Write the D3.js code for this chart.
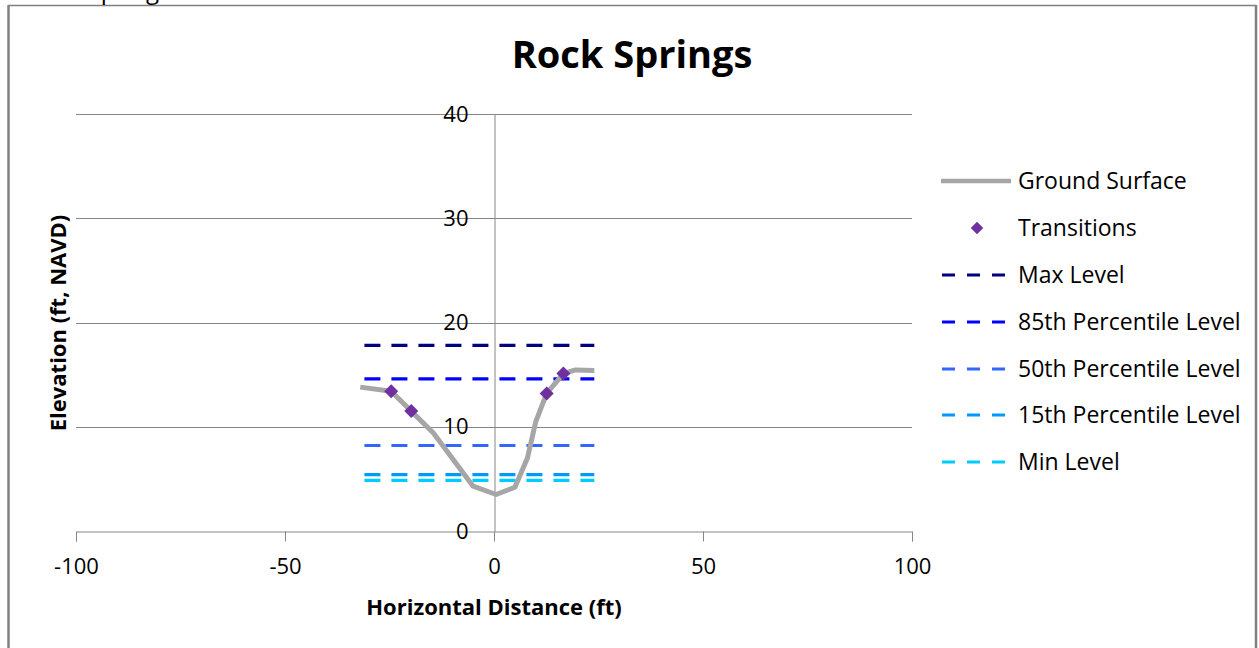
<!DOCTYPE html>
<html>
<head>
<meta charset="utf-8">
<script src="https://cdn.jsdelivr.net/npm/d3@7"></script>
<style>
  body { margin: 0; background: #fff; }
  svg { display: block; font-family: "Open Sans", Lato, sans-serif; }
</style>
</head>
<body>
<svg id="chart" width="1259" height="648"></svg>
<script>
// ground profile (horizontal distance ft, elevation ft NAVD)
var groundX = [-32, -24.6, -19.8, -14.5, -5, 0.5, 5, 8, 10, 12.6, 16.6, 19.5, 24];
var groundY = [13.8, 13.4, 11.5, 9.4, 4.3, 3.5, 4.2, 7, 10.5, 13.2, 15.1, 15.45, 15.4];

// transition points
var transX = [-24.6, -19.8, 12.6, 16.6];
var transY = [13.4, 11.5, 13.2, 15.1];

// water levels
var levelNames = ["Max Level", "85th Percentile Level", "50th Percentile Level", "15th Percentile Level", "Min Level"];
var levelValues = [17.8, 14.6, 8.2, 5.4, 4.85];
var levelColors = ["#000080", "#0000ff", "#3366ff", "#0099ff", "#00ccff"];
var levelExtent = [-31, 24];

var xTicks = [-100, -50, 0, 50, 100];
var yTicks = [0, 10, 20, 30, 40];

var svg = d3.select("#chart");
var gridColor = "#868686";

var x = d3.scaleLinear().domain([-100, 100]).range([76, 912]);
var y = d3.scaleLinear().domain([0, 40]).range([531, 114]);

// outer frame
svg.append("line").attr("x1", 8).attr("x2", 1256).attr("y1", 5.5).attr("y2", 5.5)
    .attr("stroke", "#808080").attr("stroke-width", 1.5);
svg.append("line").attr("x1", 8.5).attr("x2", 8.5).attr("y1", 5).attr("y2", 660)
    .attr("stroke", "#808080").attr("stroke-width", 2.5);
svg.append("line").attr("x1", 1256).attr("x2", 1256).attr("y1", 5).attr("y2", 660)
    .attr("stroke", "#808080").attr("stroke-width", 2.5);

// heading above the frame, only its descenders fall inside the picture
svg.append("text")
    .attr("x", 28).attr("y", -1.5)
    .attr("font-size", 24)
    .text("Rock Springs");

// title
svg.append("text")
    .attr("x", 632).attr("y", 68)
    .attr("text-anchor", "middle")
    .attr("font-size", 38)
    .attr("font-weight", "bold")
    .text("Rock Springs");

// horizontal gridlines
svg.append("g")
  .selectAll("line")
  .data(yTicks.filter(function(d) { return d > 0; }))
  .enter().append("line")
    .attr("x1", x(-100)).attr("x2", x(100))
    .attr("y1", function(d) { return Math.round(y(d)) + 0.5; })
    .attr("y2", function(d) { return Math.round(y(d)) + 0.5; })
    .attr("stroke", gridColor)
    .attr("stroke-width", 1);

// x axis at y = 0
var xAxis = svg.append("g")
    .attr("transform", "translate(0," + (Math.round(y(0)) + 0.5) + ")")
    .call(d3.axisBottom(x).tickValues(xTicks).tickSize(10).tickPadding(17)
      .tickFormat(function(d) { return String(d); }));
xAxis.select(".domain").attr("stroke", gridColor);
xAxis.selectAll(".tick line").attr("stroke", gridColor);
xAxis.selectAll(".tick text")
    .attr("fill", "#000")
    .attr("font-size", 22)
    .attr("font-family", "'Open Sans', sans-serif");

// y axis at x = 0
var yAxis = svg.append("g")
    .attr("transform", "translate(" + (Math.round(x(0)) + 0.5) + ",0)")
    .call(d3.axisLeft(y).tickValues(yTicks).tickSize(0).tickPadding(26));
yAxis.select(".domain").attr("stroke", gridColor);
yAxis.selectAll(".tick text")
    .attr("fill", "#000")
    .attr("font-size", 22)
    .attr("font-family", "'Open Sans', sans-serif");

// axis titles
svg.append("text")
    .attr("x", x(0)).attr("y", 615)
    .attr("text-anchor", "middle")
    .attr("font-size", 22)
    .attr("font-weight", "bold")
    .text("Horizontal Distance (ft)");
svg.append("text")
    .attr("transform", "translate(66,323) rotate(-90)")
    .attr("text-anchor", "middle")
    .attr("font-size", 22)
    .attr("font-weight", "bold")
    .text("Elevation (ft, NAVD)");

// level lines
svg.append("g")
  .selectAll("line")
  .data(levelValues)
  .enter().append("line")
    .attr("x1", x(levelExtent[0])).attr("x2", x(levelExtent[1]))
    .attr("y1", function(d) { return y(d); })
    .attr("y2", function(d) { return y(d); })
    .attr("stroke", function(d, i) { return levelColors[i]; })
    .attr("stroke-width", 3.2)
    .attr("stroke-dasharray", "16,11");

// ground surface
var line = d3.line()
    .x(function(d, i) { return x(groundX[i]); })
    .y(function(d, i) { return y(groundY[i]); });
svg.append("path")
    .datum(groundX)
    .attr("d", line)
    .attr("fill", "none")
    .attr("stroke", "#a6a6a6")
    .attr("stroke-width", 5)
    .attr("stroke-linejoin", "round");

// transition markers
var diamond = d3.symbol().type(d3.symbolDiamond2).size(125);
svg.append("g")
  .selectAll("path")
  .data(transX)
  .enter().append("path")
    .attr("transform", function(d, i) { return "translate(" + x(d) + "," + y(transY[i]) + ")"; })
    .attr("d", diamond)
    .attr("fill", "#7030a0");

// legend
var legend = svg.append("g").attr("class", "legend");
var legendY = [181, 228, 275, 322, 369, 415, 462];
var legendItems = ["Ground Surface", "Transitions"].concat(levelNames);

legendItems.forEach(function(name, i) {
  var ly = legendY[i];
  if (i === 0) {
    legend.append("line")
      .attr("x1", 941).attr("x2", 1011).attr("y1", ly).attr("y2", ly)
      .attr("stroke", "#a6a6a6").attr("stroke-width", 4.5);
  } else if (i === 1) {
    legend.append("path")
      .attr("transform", "translate(977," + ly + ")")
      .attr("d", d3.symbol().type(d3.symbolDiamond2).size(100))
      .attr("fill", "#7030a0");
  } else {
    legend.append("line")
      .attr("x1", 942).attr("x2", 1010).attr("y1", ly).attr("y2", ly)
      .attr("stroke", levelColors[i - 2]).attr("stroke-width", 3.2)
      .attr("stroke-dasharray", "13,12");
  }
  legend.append("text")
    .attr("x", 1018).attr("y", ly)
    .attr("dy", "0.35em")
    .attr("font-size", 23)
    .text(name);
});
</script>
</body>
</html>
